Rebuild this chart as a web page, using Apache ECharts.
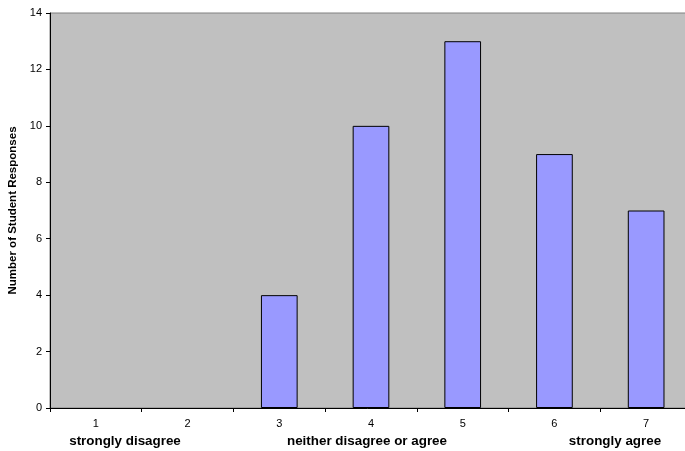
<!DOCTYPE html>
<html>
<head>
<meta charset="utf-8">
<script src="https://cdn.jsdelivr.net/npm/echarts@6/dist/echarts.min.js"></script>
<style>html,body{margin:0;padding:0;background:#fff}#c{width:685px;height:451px}</style>
</head>
<body>
<div id="c"></div>
<script>
var categories = ['1', '2', '3', '4', '5', '6', '7'];
var responses = [0, 0, 4, 10, 13, 9, 7];
var yTicks = { min: 0, max: 14, interval: 2 };
var scaleLabels = ['strongly disagree', 'neither disagree or agree', 'strongly agree'];

var chart = echarts.init(document.getElementById('c'), null, { renderer: 'canvas' });
var font = 'Arial, "Liberation Sans", sans-serif';
chart.setOption({
  animation: false,
  backgroundColor: '#ffffff',
  grid: {
    left: 50, top: 13, width: 642, height: 395,
    outerBoundsMode: 'none', containLabel: false,
    show: true, backgroundColor: '#C0C0C0', borderColor: '#808080', borderWidth: 1
  },
  xAxis: {
    type: 'category',
    data: categories,
    boundaryGap: true,
    axisLine: { show: true, lineStyle: { color: '#000', width: 1 } },
    axisTick: { show: true, length: 4, alignWithLabel: false, lineStyle: { color: '#000' } },
    axisLabel: { color: '#000', fontFamily: font, fontSize: 11, margin: 10 },
    splitLine: { show: false }
  },
  yAxis: {
    type: 'value',
    min: yTicks.min, max: yTicks.max, interval: yTicks.interval,
    name: 'Number of Student Responses',
    nameLocation: 'middle',
    nameRotate: 90,
    nameGap: 27,
    nameTextStyle: { color: '#000', fontFamily: font, fontSize: 11.5, fontWeight: 'bold' },
    axisLine: { show: true, lineStyle: { color: '#000', width: 1 } },
    axisTick: { show: true, length: 4, lineStyle: { color: '#000' } },
    axisLabel: { color: '#000', fontFamily: font, fontSize: 11, margin: 8 },
    splitLine: { show: false }
  },
  series: [{
    type: 'bar',
    data: responses.map(function (v) { return v === 0 ? '-' : v; }),
    barWidth: '40%',
    itemStyle: { color: '#9999FF', borderColor: '#000', borderWidth: 1 }
  }],
  graphic: [
    { type: 'text', x: 125, y: 441, style: { text: scaleLabels[0], fill: '#000', font: 'bold 13.4px ' + font, align: 'center', verticalAlign: 'middle' } },
    { type: 'text', x: 367, y: 441, style: { text: scaleLabels[1], fill: '#000', font: 'bold 13.4px ' + font, align: 'center', verticalAlign: 'middle' } },
    { type: 'text', x: 615, y: 441, style: { text: scaleLabels[2], fill: '#000', font: 'bold 13.4px ' + font, align: 'center', verticalAlign: 'middle' } }
  ]
});
</script>
</body>
</html>
